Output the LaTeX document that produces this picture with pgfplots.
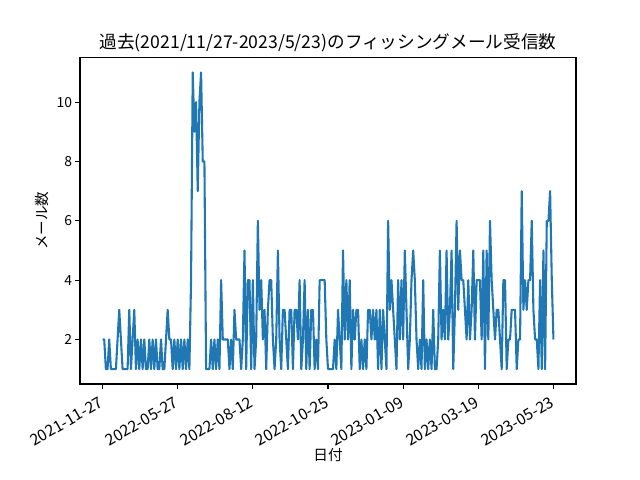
\documentclass[border=0pt]{standalone}
\usepackage{fontspec}
\setmainfont{Noto Sans CJK JP}
\usepackage{pgfplots}
\usepackage{pgfplotstable}
\pgfplotsset{compat=1.18}
\definecolor{mplblue}{HTML}{1F77B4}

% mails received per day (index = day with mail)
\pgfplotstableread[row sep=\\]{
y\\
2\\2\\1\\1\\2\\1\\
1\\1\\1\\2\\3\\2\\
1\\1\\1\\1\\3\\1\\
2\\3\\1\\2\\1\\2\\
1\\2\\1\\1\\2\\1\\
2\\1\\2\\1\\1\\2\\
1\\1\\2\\3\\2\\2\\
1\\2\\1\\2\\1\\2\\
1\\2\\1\\2\\1\\4\\
11\\9\\10\\7\\10\\11\\
8\\8\\1\\1\\1\\2\\
1\\2\\1\\2\\1\\4\\
2\\2\\2\\2\\1\\2\\
1\\3\\2\\2\\2\\1\\
2\\5\\1\\4\\4\\1\\
4\\1\\2\\6\\3\\4\\
2\\3\\1\\3\\4\\4\\
2\\1\\2\\5\\2\\1\\
3\\3\\2\\1\\3\\3\\
1\\3\\3\\2\\4\\1\\
2\\4\\1\\3\\1\\3\\
3\\1\\2\\1\\4\\4\\
4\\4\\2\\1\\1\\1\\
1\\2\\1\\3\\2\\1\\
5\\2\\4\\2\\4\\1\\
3\\2\\3\\3\\1\\2\\
1\\2\\1\\3\\3\\2\\
3\\2\\3\\1\\3\\1\\
3\\2\\1\\6\\3\\4\\
3\\2\\1\\4\\2\\4\\
2\\5\\3\\1\\2\\4\\
5\\4\\2\\1\\2\\1\\
4\\1\\2\\1\\2\\1\\
3\\1\\1\\2\\5\\2\\
3\\2\\5\\2\\3\\5\\
1\\3\\6\\3\\5\\4\\
4\\3\\2\\4\\2\\3\\
5\\2\\4\\4\\4\\2\\
5\\1\\5\\2\\6\\4\\
3\\2\\3\\3\\2\\1\\
4\\4\\1\\2\\2\\3\\
3\\3\\1\\2\\2\\7\\
3\\4\\3\\4\\4\\6\\
3\\2\\2\\1\\4\\1\\
5\\1\\6\\6\\7\\4\\2\\
}\mails

\begin{document}
\begin{tikzpicture}
\path (0,0) rectangle (460.8pt,345.6pt);
\begin{axis}[
    at={(57.6pt,69.12pt)}, anchor=south west,
    scale only axis,
    width=357.12pt, height=235.0pt,
    xmin=-13.5, xmax=283.5,
    ymin=0.5, ymax=11.5,
    xtick={0,45,90,135,180,225,270},
    xticklabels={2021-11-27,2022-05-27,2022-08-12,2022-10-25,2023-01-09,2023-03-19,2023-05-23},
    ytick={2,4,6,8,10},
    xtick pos=bottom, ytick pos=left,
    tick align=outside,
    major tick length=3.5pt,
    tick style={black, line width=0.8pt},
    axis line style={line width=0.8pt},
    tick label style={font=\fontsize{10}{12}\selectfont},
    /pgf/number format/assume math mode=true,
    xticklabel style={font=\fontsize{11.3}{13}\selectfont, rotate=30, anchor=north east, inner sep=0pt, xshift=-5pt, yshift=-3pt},
    yticklabel style={inner sep=2pt},
    title={過去(2021/11/27-2023/5/23)のフィッシングメール受信数},
    title style={font=\fontsize{12.7}{15}\selectfont, at={(0.5,1)}, anchor=south, inner sep=0pt, yshift=-2pt},
    xlabel={日付},
    ylabel={メール数},
    label style={font=\fontsize{10.5}{12}\selectfont},
    xlabel style={yshift=2pt},
]
\addplot[mplblue, line width=1.5pt, line join=round, mark=none] table[x expr=\coordindex, y=y] {\mails};
\end{axis}
\end{tikzpicture}
\end{document}
